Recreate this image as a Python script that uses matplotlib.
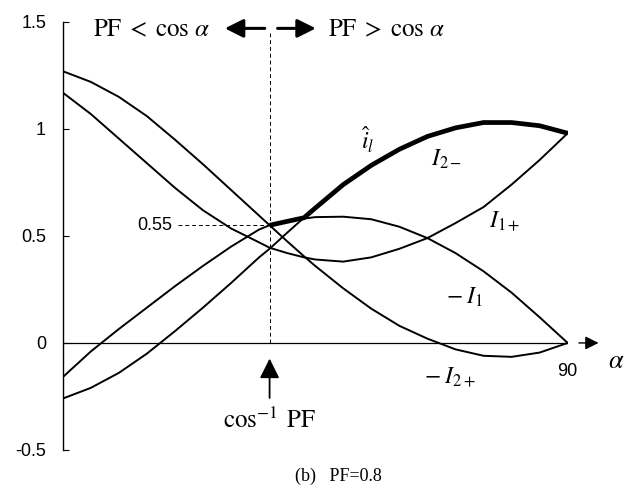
import numpy as np
import matplotlib.pyplot as plt

plt.rcParams['font.family'] = ['Liberation Sans', 'DejaVu Sans']
plt.rcParams['mathtext.fontset'] = 'stix'

# firing angle grid (deg) and the four current curves (p.u.)
alpha = [0, 5, 10, 15, 20, 25, 30, 35, 36.87, 40, 43, 45, 50, 55, 60, 65, 70, 75, 80, 85, 90]
neg_i2p = [1.27, 1.22, 1.15, 1.06, 0.95, 0.835, 0.715, 0.595, 0.55, 0.475, 0.405, 0.36, 0.255,
           0.16, 0.08, 0.02, -0.03, -0.06, -0.065, -0.045, 0.0]
i1p = [1.17, 1.07, 0.955, 0.84, 0.725, 0.62, 0.535, 0.47, 0.445, 0.42, 0.40, 0.39, 0.38,
       0.40, 0.44, 0.49, 0.56, 0.635, 0.74, 0.855, 0.98]
neg_i1 = [-0.16, -0.04, 0.065, 0.165, 0.265, 0.36, 0.45, 0.53, 0.55, 0.568, 0.581, 0.588, 0.59,
          0.578, 0.543, 0.49, 0.42, 0.335, 0.235, 0.12, 0.0]
i2m = [-0.26, -0.21, -0.14, -0.05, 0.055, 0.165, 0.28, 0.40, 0.44, 0.515, 0.585, 0.63, 0.74,
       0.83, 0.905, 0.965, 1.005, 1.03, 1.03, 1.015, 0.98]

pf = 0.8
phi = np.degrees(np.arccos(pf))

yticks = [-0.5, 0, 0.5, 1, 1.5]
ytick_labels = ['-0.5', '0', '0.5', '1', '1.5']

a = np.array(alpha)
peak = np.maximum(neg_i1, i2m)
sel = a >= phi - 1e-6
i_phi = alpha.index(36.87)

fig = plt.figure(figsize=(6.4, 4.88), dpi=100)
ax = fig.add_axes([0.098, 0.078, 0.789, 0.877])

for y in (neg_i2p, i1p, neg_i1, i2m):
    ax.plot(alpha, y, color='k', lw=1.4)
ax.plot(a[sel], peak[sel], color='k', lw=3.4, solid_capstyle='butt')

# horizontal alpha axis with arrow
ax.plot([0, 90], [0, 0], color='k', lw=0.9)
ax.plot([90, 91.5], [0, 0], color='k', lw=0.8, ls=(0, (2, 2)))
ax.annotate('', xy=(96.0, 0), xytext=(91.5, 0),
            arrowprops=dict(arrowstyle='-|>', color='k', lw=1.0, mutation_scale=20),
            annotation_clip=False)
ax.text(98.6, -0.085, r'$\alpha$', fontsize=19, ha='center', va='center')
ax.text(90, -0.135, '90', fontsize=13, ha='center', va='center')

# dashed guides
dash = dict(color='k', lw=0.7, ls=(0, (4, 3)))
ax.plot([phi, phi], [0, 1.45], **dash)
ax.plot([90, 90], [0, i2m[-1]], **dash)
ax.plot([20.5, phi], [neg_i1[i_phi]] * 2, **dash)
ax.text(19.6, neg_i1[i_phi], '0.55', fontsize=13, ha='right', va='center')

# region annotations along the top
ax.text(15.9, 1.465, r'$\mathrm{PF}\;<\;\cos\,\alpha$', fontsize=18, ha='center', va='center')
ax.text(57.8, 1.465, r'$\mathrm{PF}\;>\;\cos\,\alpha$', fontsize=18, ha='center', va='center')
big = dict(arrowstyle='-|>', color='k', lw=2.2, mutation_scale=28)
ax.annotate('', xy=(28.4, 1.47), xytext=(36.5, 1.47), arrowprops=big)
ax.annotate('', xy=(45.6, 1.47), xytext=(37.8, 1.47), arrowprops=big)

ax.annotate('', xy=(phi, -0.06), xytext=(phi, -0.27),
            arrowprops=dict(arrowstyle='-|>', color='k', lw=1.3, mutation_scale=30),
            annotation_clip=False)
ax.text(phi, -0.36, r'$\cos^{-1}\;\mathrm{PF}$', fontsize=18, ha='center', va='center')

# curve names
ax.text(54.4, 0.95, r'$\hat{i}_l$', fontsize=17, ha='center', va='center')
ax.text(68.4, 0.86, r'$I_{2-}$', fontsize=17, ha='center', va='center')
ax.text(78.8, 0.57, r'$I_{1+}$', fontsize=17, ha='center', va='center')
ax.text(71.7, 0.215, r'$-\;I_1$', fontsize=17, ha='center', va='center')
ax.text(69.0, -0.16, r'$-\;I_{2+}$', fontsize=17, ha='center', va='center')

ax.set_xlim(0, 90)
ax.set_ylim(-0.5, 1.5)
ax.set_xticks([])
ax.set_yticks(yticks)
ax.set_yticklabels(ytick_labels)
ax.tick_params(axis='y', direction='in', length=4, pad=12, labelsize=13)
for s in ('top', 'right', 'bottom'):
    ax.spines[s].set_visible(False)
ax.spines['left'].set_linewidth(1.0)

fig.text(0.528, 0.023, '(b)   PF=0.8', fontsize=13, ha='center', va='center',
         family='Liberation Serif')

fig.savefig('out.png', dpi=100)
